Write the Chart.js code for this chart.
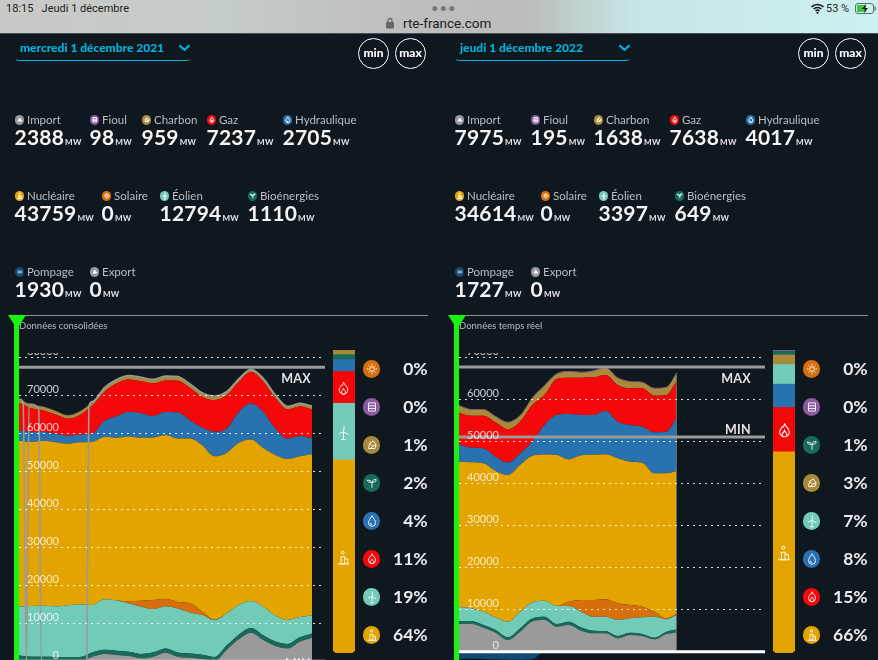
<!DOCTYPE html>
<html lang="fr"><head><meta charset="utf-8">
<script src="https://cdn.jsdelivr.net/npm/chart.js@4/dist/chart.umd.min.js"></script>
<style>
html,body{margin:0;padding:0;width:878px;height:660px;overflow:hidden;background:#10181f;font-family:Lato,"Open Sans",sans-serif;font-size:11px}
#root{position:absolute;left:0;top:0;width:878px;height:660px;overflow:hidden;filter:blur(.35px)}
.a{position:absolute;white-space:nowrap;line-height:12px}
.a svg{display:block}
canvas{position:absolute;display:block}
.lab{font-size:11.5px;color:#b9bdc0;line-height:12px}
.val{font-size:21px;font-weight:700;color:#f4f4f4;line-height:22px;letter-spacing:.2px}
.val small{font-size:8px;font-weight:900;color:#ddd;letter-spacing:.3px;margin-left:1px}
.pct{font-size:17.5px;font-weight:700;color:#ececec;text-align:right;line-height:20px}
.mm{width:29px;height:29px;border:1.8px solid #fff;border-radius:50%;color:#fff;font-size:12px;font-weight:900;text-align:center;line-height:28px}
.tag{font-size:12.5px;font-weight:700;color:#e4e4e4;letter-spacing:.3px;line-height:14px;text-align:right}
.date{font-size:12px;font-weight:900;color:#00b4e0;line-height:14px}
.sub{font-size:9.5px;color:#b8bbbd;line-height:12px}
</style></head><body><div id="root"></div>
<script>
const hours1=[0,1,2,3,4,5,6,7,8,9,10,11,12,13,14,15,16,17,18,19,20,21,22,23,24];
const import1=[450,130,100,80,50,50,1230,1930,1670,1400,790,1230,2280,1230,960,610,0,2980,5790,7540,5610,4040,3420,5180,6230];
const bio1=[1110,1100,1090,1080,1070,1060,1070,1100,1120,1130,1150,1130,1120,1100,1090,1100,1120,1180,1240,1260,1230,1180,1150,1130,1120];
const wind1=[12794,13330,13420,13330,13680,13860,12540,13290,13250,12720,12460,11400,11140,11580,10790,10480,9740,8470,7810,7100,7540,6800,6320,5350,4820];
const solar1=[0,0,0,0,0,0,0,0,0,600,1580,2370,1930,1750,2460,880,180,0,0,0,0,0,0,0,0];
const nuc1=[43759,43250,43510,43250,42540,42720,42980,42810,42900,43420,42900,42810,43160,43070,43420,43860,42980,42280,42720,42540,41840,42370,42400,42350,42380];
const hydro1=[2705,2630,2280,2190,2110,2020,2190,4210,5610,6490,6490,5700,6050,6840,4820,4650,6490,6400,8160,9470,9470,6930,5350,5350,4120];
const gas1=[7237,6230,5700,5090,4470,5180,7370,7720,8680,8510,8420,8600,8330,8330,8510,8160,8330,8770,7890,8330,8070,8070,7720,7810,7720];
const coal1=[959,950,950,940,870,950,950,950,950,950,950,950,1040,1040,950,950,950,870,700,610,700,700,700,700,790];
const fuel1=[98,100,95,95,90,90,95,100,100,100,100,100,100,100,100,100,100,100,100,100,100,100,100,100,98];
const pump1=[-1930,-1900,-1900,-1950,-1950,-1900,-900,-10,-10,-10,-10,-10,-10,-10,-10,-10,-10,-10,-10,-10,-10,-10,-10,-10,-10];
const dipX1=[0.33,0.62,0.82,1.62,1.83,5.55,5.72];
const dipY1=[68400,0,67700,66300,0,0,67200];
const tickVals1=[0,10000,20000,30000,40000,50000,60000,70000,80000];

const hours2=[0,1,2,3,4,5,6,7,8,9,10,11,12,13,14,15,16,17,17.8];
const import2=[6590,6590,5710,4520,2780,4760,7220,7540,5950,6350,5000,4370,4370,3170,3970,3730,2940,4210,4600];
const bio2=[649,710,640,640,640,790,710,790,640,790,790,640,560,560,560,480,400,560,710];
const wind2=[3397,3020,3170,3020,3730,3970,3810,3810,4290,3730,3730,3330,3410,3810,3410,3970,5000,2940,3410];
const solar2=[0,0,0,0,0,0,0,0,0,1030,2780,3970,4130,3970,3170,2540,1190,240,240];
const nuc2=[34614,34760,35320,34840,34920,34920,34920,34840,35950,33890,34450,34600,34530,34530,34130,34290,32940,34530,34050];
const hydro2=[4017,3490,3570,3410,2940,2780,3330,6980,9520,10790,9600,9440,10320,8730,8730,8570,9760,9920,12540];
const gas2=[7638,7620,7780,8180,7940,7540,8730,7140,8570,8650,8890,8970,8570,8730,8730,9130,8730,8730,8730];
const coal2=[1638,1400,1400,1320,1640,1400,1640,2190,1160,1400,1240,1480,1640,1640,1560,1400,1710,1790,1950];
const fuel2=[195,190,190,190,185,190,190,190,190,190,190,190,195,195,190,190,190,190,195];
const pump2=[-1727,-1700,-1720,-1800,-1900,-1900,-1800,-10,-10,-10,-10,-10,-10,-10,-10,-10,-10,-10,-10];
const tickVals2=[0,10000,20000,30000,40000,50000,60000,70000];

const seriesNames=["Import","Fioul","Charbon","Gaz","Hydraulique","Nucléaire","Solaire","Éolien","Bioénergies","Pompage","Export"];
const seriesColors=["#9a9a9a","#8a5aa3","#a88a3a","#f5080a","#2872b0","#e3a400","#d86f0d","#72cbb6","#176b58","#0e4a72","#9a9a9a"];
const seriesIcons=["tri","fuel","coal","flame","drop","nuc","sun","wind","leaf","wave","tri"];
const cursor1=[2388,98,959,7237,2705,43759,0,12794,1110,1930,0];
const cursor2=[7975,195,1638,7638,4017,34614,0,3397,649,1727,0];
const labelX1=[15,90,142,207,283,15,102,160,248,15,90];
const labelX2=[455,531,594,670,746,455,541,599,675,455,531];
const rowOf=[0,0,0,0,0,1,1,1,1,2,2];
const maxMw1=77500, minMw1=0, maxMw2=67800, minMw2=51100;
const pctNames1=["Solaire","Fioul","Charbon","Bioénergies","Hydraulique","Gaz","Éolien","Nucléaire"];
const pctVals1=[0,0,1,2,4,11,19,64];
const pctNames2=["Solaire","Fioul","Bioénergies","Charbon","Éolien","Hydraulique","Gaz","Nucléaire"];
const pctVals2=[0,0,1,3,7,8,15,66];
const barOrder1=["Nucléaire","Éolien","Gaz","Hydraulique","Bioénergies","Charbon","Fioul"];
const barOrder2=["Nucléaire","Gaz","Hydraulique","Éolien","Charbon","Bioénergies","Fioul"];

const ICON={
flame:'<path d="M12 3c1 4 6 6 6 11a6 6 0 0 1-12 0c0-3 2-4 3-7 1 1 2 2 3-4zM12 20c-2 0-3-1-3-3s2-2 3-5c1 3 3 3 3 5s-1 3-3 3z"/>',
drop:'<path d="M12 3c3 5 6 8 6 12a6 6 0 0 1-12 0c0-4 3-7 6-12zM9 15a3 3 0 0 0 3 3"/>',
wind:'<path d="M12 22V11M12 11l1-8M12 11l-7 3M12 11l7 4M9 22h6"/>',
nuc:'<path d="M8 21c1-4 1-7 0-10h6c-1 3-1 6 0 10zM4 21h16M11 7a2 2 0 1 0 0-4 2 2 0 0 0 0 4zM14 14h4v7"/>',
sun:'<circle cx="12" cy="12" r="4"/><path d="M12 3v3M12 18v3M3 12h3M18 12h3M6 6l2 2M16 16l2 2M18 6l-2 2M8 16l-2 2"/>',
fuel:'<path d="M6 5h12v14H6zM6 10h12M6 14.500h12"/>',
coal:'<path d="M6 18l2-9 6-4 5 7-2 6zM8 9l5 5 6-2M13 14l-3 4"/>',
leaf:'<path d="M12 20v-9M12 11c0-4 4-5 7-5 0 4-3 5-7 5zM11 11c0-3-4-4-7-4 0 3 3 4 7 4"/>',
wave:'<path d="M5 10c2-2 3 2 5 0s3 2 5 0 2 1 4 0M5 15c2-2 3 2 5 0s3 2 5 0 2 1 4 0"/>',
tri:'<path d="M12 7l6 9H6z" fill="#fff"/>'};
const root=document.getElementById('root');
function el(cls,x,y,html,extra){const d=document.createElement('div');d.className='a '+cls;d.style.left=x+'px';d.style.top=y+'px';d.innerHTML=html;if(extra)d.style.cssText+=extra;root.appendChild(d);return d;}
function icon(name,size,sw,color){return `<svg width="${size}" height="${size}" viewBox="0 0 24 24" fill="none" stroke="${color||'#fff'}" stroke-width="${sw}" style="display:block">${ICON[name]}</svg>`;}
function dot(name,cx,cy,d,sw){const c=seriesColors[seriesIcons.indexOf(name)];
 el('',cx-d/2,cy-d/2,`<div style="width:${d}px;height:${d}px;border-radius:50%;background:${c};display:flex;align-items:center;justify-content:center">${icon(name,d*.8,sw)}</div>`);}

/* status bar */
el('',0,0,'',"width:878px;height:33px;background:linear-gradient(90deg,#c9c9c7 0,#c5cdc8 25%,#bdbdbd 48%,#bcbcbc 60%,#c6e6e4 72%,#cdf0f0 100%);border-bottom:1px solid #4a4f52;");
el('',6,2,'<span style="font-size:11px;color:#222;font-family:Roboto,sans-serif">18:15&nbsp;&nbsp;&nbsp;Jeudi 1 décembre</span>');
el('',431,2,'<span style="font-size:13px;color:#777;letter-spacing:1px">•••</span>');
el('',385,17,'<svg width="10" height="12" viewBox="0 0 10 12"><rect x="1" y="5" width="8" height="6.500" rx="1" fill="#666"/><path d="M3 5V3.500a2 2 0 0 1 4 0V5" fill="none" stroke="#666" stroke-width="1.300"/></svg>');
el('',403,17,'<span style="font-size:13.5px;color:#222;font-family:Roboto,sans-serif">rte-france.com</span>');
el('',811,3,'<svg width="13" height="11" viewBox="0 0 24 20"><path d="M1 7a16 16 0 0 1 22 0M5 11a10 10 0 0 1 14 0M8.500 14.500a5 5 0 0 1 7 0" fill="none" stroke="#111" stroke-width="3"/><circle cx="12" cy="18" r="2" fill="#111"/></svg>');
el('',826,2,'<span style="font-size:11px;color:#222;font-family:Roboto,sans-serif">53 %</span>');
el('',855,3,'<svg width="21" height="11" viewBox="0 0 21 11"><rect x=".5" y=".5" width="18" height="10" rx="2.500" fill="none" stroke="#666"/><rect x="2" y="2" width="9" height="7" fill="#3ec63e"/><path d="M11 1l-4 5h3l-1 4 4-5h-3z" fill="#111"/><rect x="19.500" y="3.500" width="1.300" height="4" fill="#666"/></svg>');

function panel(o){
 /* header */
 el('date',o.ox+20,41,o.date);
 el('',o.ox+178,44,'<svg width="13" height="8" viewBox="0 0 14 8"><path d="M1.500 1l5.500 5 5.500-5" fill="none" stroke="#00b4e0" stroke-width="2.200"/></svg>');
 el('',o.ox+14,51,'',"width:175px;height:9px;border:1.2px solid #00b4e0;border-top:none;border-radius:0 0 5px 5px;border-left-color:#10181f00;border-right-color:#10181f00;");
 el('mm',o.ox+358,38,'min');el('mm',o.ox+395,38,'max');
 /* labels */
 seriesNames.forEach((n,i)=>{
  const x=o.labelX[i],r=rowOf[i],yl=120+r*76;
  dot(seriesIcons[i],x+4.5,yl,9.5,3);
  el('lab',x+12,yl-6.500,n);
  el('val',x-.5,yl+6,o.cursor[i]+'<small>MW</small>');
 });
 el('',o.ox+14,315,'',"width:"+o.ruleW+"px;height:1px;background:#8d9194");
 el('sub',o.ox+19,320,o.sub);
}

function fillDs(label,data,color,xs,fill){return{label,data:data.map((v,i)=>({x:xs[i],y:v})),backgroundColor:color,borderColor:color,borderWidth:0,fill,pointRadius:0,cubicInterpolationMode:'monotone'};}
function lineDs(label,pts,color,w){return{label,data:pts,borderColor:color,backgroundColor:color,borderWidth:w,fill:false,pointRadius:0,cubicInterpolationMode:'monotone',stack:label,order:-1};}

function area(o){
 const c=document.createElement('canvas');c.style.left=o.left+'px';c.style.top='353px';c.width=306;c.height=317;root.appendChild(c);
 const ds=[
  fillDs("Import",o.s[0],seriesColors[0],o.xs,'origin'),
  fillDs("Bioénergies",o.s[1],seriesColors[8],o.xs,'-1'),
  fillDs("Éolien",o.s[2],seriesColors[7],o.xs,'-1'),
  fillDs("Solaire",o.s[3],seriesColors[6],o.xs,'-1'),
  fillDs("Nucléaire",o.s[4],seriesColors[5],o.xs,'-1'),
  fillDs("Hydraulique",o.s[5],seriesColors[4],o.xs,'-1'),
  fillDs("Gaz",o.s[6],seriesColors[3],o.xs,'-1'),
  fillDs("Charbon",o.s[7],seriesColors[2],o.xs,'-1'),
  fillDs("Fioul",o.s[8],seriesColors[1],o.xs,'-1'),
  fillDs("Pompage",o.s[9],seriesColors[9],o.xs,'origin')
 ];
 o.extra.forEach(e=>ds.push(e));
 new Chart(c,{type:'line',data:{datasets:ds},options:{
  responsive:false,animation:false,devicePixelRatio:1,
  layout:{padding:0},
  plugins:{legend:{display:false},tooltip:{enabled:false}},
  scales:{
   x:{type:'linear',min:0,max:25.06,display:false},
   y:{position:'left',stacked:true,min:o.ymin,max:o.ymax,
    afterBuildTicks:s=>{s.ticks=o.tickVals.map(v=>({value:v}));},
    afterFit:s=>{s.paddingTop=0;s.paddingBottom=0;s.width=0;},
    border:{display:false,dash:[2,4]},
    grid:{color:'rgba(255,255,255,.85)',lineWidth:1,drawTicks:false,z:1},
    ticks:{autoSkip:false,mirror:true,padding:8,labelOffset:-6.3,z:2,color:'rgba(255,255,255,.78)',font:{family:'Lato',size:11},callback:v=>String(v).padStart(5,'\u2007')}
   }}}});
 return c;
}

function stackBar(o){
 const c=document.createElement('canvas');c.style.left=o.left+'px';c.style.top='350px';c.width=22;c.height=303;root.appendChild(c);
 const idx=n=>seriesNames.indexOf(n);
 const ds=o.order.map((n,i)=>({label:n,data:[o.cursor[idx(n)]],backgroundColor:seriesColors[idx(n)],barPercentage:1,categoryPercentage:1,borderWidth:0,borderSkipped:false,borderRadius:i===0?{bottomLeft:5,bottomRight:5,topLeft:0,topRight:0}:0}));
 const total=o.order.reduce((a,n)=>a+o.cursor[idx(n)],0);
 new Chart(c,{type:'bar',data:{labels:['mix'],datasets:ds},options:{responsive:false,animation:false,devicePixelRatio:1,layout:{padding:0},plugins:{legend:{display:false},tooltip:{enabled:false}},scales:{x:{stacked:true,display:false},y:{stacked:true,display:false,min:0,max:total}}}});
}
function pctList(o){
 o.names.forEach((n,i)=>{
  const y=369+i*38,k=seriesNames.indexOf(n);
  dot(seriesIcons[k],o.cx,y,17.500,1.500);
  el('pct',o.cx+4,y-10,o.vals[i]+'%',"width:"+o.rw+"px");
 });
}
function cursorMark(x){
 el('',x-9,315,'<svg width="18" height="14" viewBox="0 0 18 14"><path d="M0 0h18l-9 14z" fill="#17f40f"/></svg>');
 el('',x-2.700,322,'',"width:5.400px;height:338px;background:#17f40f");
}

/* totals for the gray outline on the 2021 chart */
const tot1=hours1.map((h,i)=>import1[i]+bio1[i]+wind1[i]+solar1[i]+nuc1[i]+hydro1[i]+gas1[i]+coal1[i]+fuel1[i]);
const outline1=[{x:0,y:tot1[0]},{x:dipX1[0],y:dipY1[0]},{x:dipX1[1],y:dipY1[1]},{x:dipX1[2],y:dipY1[2]},{x:1,y:tot1[1]},{x:dipX1[3],y:dipY1[3]},{x:dipX1[4],y:dipY1[4]},{x:dipX1[5],y:dipY1[5]},{x:dipX1[6],y:dipY1[6]}]
 .concat(hours1.slice(6).map((h,i)=>({x:h,y:tot1[i+6]})));
const tot2=hours2.map((h,i)=>import2[i]+bio2[i]+wind2[i]+solar2[i]+nuc2[i]+hydro2[i]+gas2[i]+coal2[i]+fuel2[i]);
const lastX2=hours2[hours2.length-1];

panel({ox:0,date:'mercredi 1 décembre 2021',cursor:cursor1,labelX:labelX1,ruleW:414,sub:'Données consolidées'});
panel({ox:440,date:'jeudi 1 décembre 2022',cursor:cursor2,labelX:labelX2,ruleW:414,sub:'Données temps réel'});

area({left:19,xs:hours1,ymin:-2290,ymax:81240,tickVals:tickVals1,
 s:[import1,bio1,wind1,solar1,nuc1,hydro1,gas1,coal1,fuel1,pump1],
 extra:[lineDs('export',outline1,'#9a9a9a',1.6),
  lineDs('max',[{x:0,y:maxMw1},{x:25.06,y:maxMw1}],'#9a9a9a',3),
  lineDs('min',[{x:0,y:minMw1},{x:25.06,y:minMw1}],'#e8e8e8',3)]});
area({left:459,xs:hours2,ymin:-4357,ymax:71120,tickVals:tickVals2,
 s:[import2,bio2,wind2,solar2,nuc2,hydro2,gas2,coal2,fuel2,pump2],
 extra:[lineDs('fin',[{x:lastX2,y:tot2[tot2.length-1]},{x:lastX2,y:0}],'rgba(170,170,170,.6)',1),
  lineDs('max',[{x:0,y:maxMw2},{x:25.06,y:maxMw2}],'#9a9a9a',3),
  lineDs('min',[{x:0,y:minMw2},{x:25.06,y:minMw2}],'#9a9a9a',3),
  lineDs('zero',[{x:0,y:0},{x:25.06,y:0}],'#ffffff',3)]});

el('tag',270,372,'MAX',"width:41px");
el('tag',270,657,'MIN',"width:41px");
el('tag',710,372,'MAX',"width:41px");
el('tag',710,423,'MIN',"width:41px");

stackBar({left:333,order:barOrder1,cursor:cursor1});
stackBar({left:773,order:barOrder2,cursor:cursor2});
el('',335,380,icon('flame',17,1.300));el('',335,424,icon('wind',17,1.300));el('',335,549,icon('nuc',17,1.300));
el('',775,421,icon('flame',19,1.300));el('',775,544,icon('nuc',18,1.300));
pctList({names:pctNames1,vals:pctVals1,cx:371.700,rw:52});
pctList({names:pctNames2,vals:pctVals2,cx:811.700,rw:52});
cursorMark(16.500);cursorMark(456.500);
</script></body></html>
